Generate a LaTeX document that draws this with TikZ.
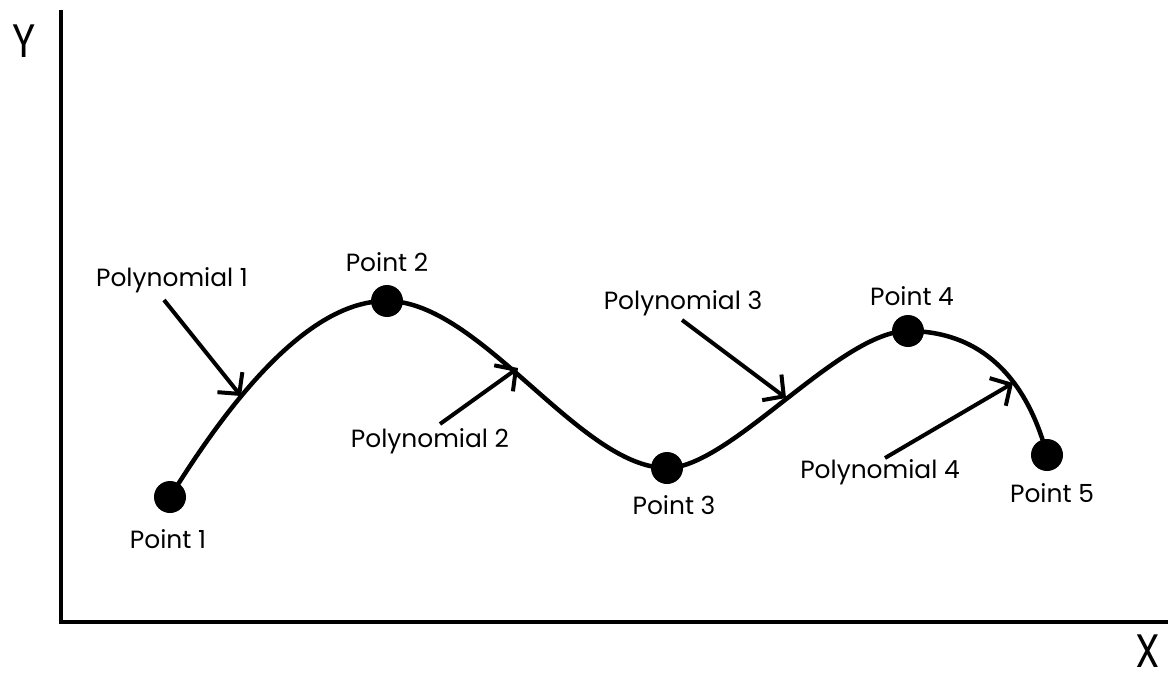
\documentclass[tikz,border=0pt]{standalone}
\usepackage{fontspec}
\setmainfont{Poppins}
\usetikzlibrary{arrows.meta}
\begin{document}
\begin{tikzpicture}[x=1bp,y=-1bp,
  lbl/.style={font=\fontsize{25}{28}\selectfont, inner sep=0pt},
  axlbl/.style={font=\fontsize{42}{46}\selectfont, inner sep=0pt},
  dot/.style={circle, fill=black, minimum size=32bp, inner sep=0pt},
  pointer/.style={line width=4bp, -{Straight Barb[length=15bp,width=32bp,line width=4bp]}},
  curve/.style={line width=4.5bp},
  axis/.style={line width=4bp}]
\useasboundingbox (0,0) rectangle (1174,682);
% axes
\coordinate (ytop) at (61,10);
\coordinate (origin) at (61,622);
\coordinate (xend) at (1168,622);
\draw[axis] (ytop) -- (origin) -- (xend);
\node[axlbl] (ylab) at (24,41) {\scalebox{0.95}[1.12]{Y}};
\node[axlbl] (xlab) at (1148,651) {\scalebox{0.95}[1.12]{X}};
% points
\node[dot] (p1) at (170,497) {};
\node[dot] (p2) at (387,301) {};
\node[dot] (p3) at (667,468) {};
\node[dot] (p4) at (908,331) {};
\node[dot] (p5) at (1047,455) {};
% curve
\draw[curve] (p1.center) .. controls (215,425) and (300,300) .. (p2.center)
  .. controls (480,301) and (580,468) .. (p3.center)
  .. controls (730,468) and (840,331) .. (p4.center)
  .. controls (990,331) and (1030,390) .. (p5.center);
\coordinate (c1) at (241,396);
\coordinate (c2) at (518,368);
\coordinate (c3) at (786,398);
\coordinate (c4) at (1013,383);
\node[lbl] (l1) at (168,539) {Point 1};
\node[lbl] (l2) at (387,262) {Point 2};
\node[lbl] (l3) at (674,505) {Point 3};
\node[lbl] (l4) at (912,296) {Point 4};
\node[lbl] (l5) at (1052,493) {Point 5};
% polynomial labels
\node[lbl] (q1) at (172,280) {Polynomial 1};
\node[lbl] (q2) at (430,441) {Polynomial 2};
\node[lbl] (q3) at (683,303) {Polynomial 3};
\node[lbl] (q4) at (880,472) {Polynomial 4};
\coordinate (a1) at (164,300);
\coordinate (a2) at (440,424);
\coordinate (a3) at (682,320);
\coordinate (a4) at (885,458);
\draw[pointer] (a1) -- (c1);
\draw[pointer] (a2) -- (c2);
\draw[pointer] (a3) -- (c3);
\draw[pointer] (a4) -- (c4);
\end{tikzpicture}
\end{document}
